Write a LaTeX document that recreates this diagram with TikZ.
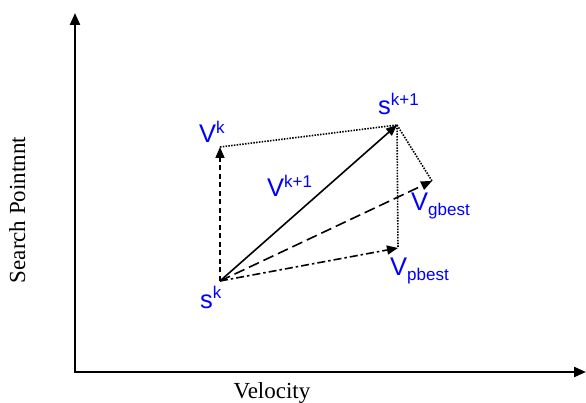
\documentclass[tikz,border=0pt]{standalone}
\usepackage{fontspec}
\setmainfont{Liberation Serif}
\newfontfamily\lblfont{Liberation Sans}
\usetikzlibrary{arrows.meta}
\definecolor{lblblue}{RGB}{0,0,255}
\newcommand\mysup[1]{\raisebox{9.5pt}{\fontsize{17}{17}\selectfont #1}}
\newcommand\mysub[1]{\raisebox{-4.5pt}{\fontsize{17}{17}\selectfont #1}}
\tikzset{
  axis/.style={line width=2.2pt, -{Triangle[length=12pt,width=10pt]}},
  vec/.style={line width=1.6pt, -{Triangle[length=11pt,width=9pt]}},
  vdash/.style={vec, dash pattern=on 5pt off 3.5pt},
  vlong/.style={vec, dash pattern=on 11pt off 5pt},
  vdashdot/.style={vec, dash pattern=on 8pt off 3pt on 2.5pt off 3pt},
  vdot/.style={line width=1.6pt, dash pattern=on 1.5pt off 1.3pt},
  lbl/.style={text=lblblue, font=\lblfont\fontsize{25.5}{25.5}\selectfont, inner sep=0pt, anchor=base west},
  axlbl/.style={font=\fontsize{23}{23}\selectfont, inner sep=0pt, anchor=base}
}
\begin{document}
\begin{tikzpicture}[x=1pt,y=-1pt]
\useasboundingbox (0,0) rectangle (586,403);
% axes
\coordinate (o) at (75,372);
\coordinate (ytop) at (75,13);
\coordinate (xend) at (586,372);
\draw[axis] ([yshift=-1.1pt]o) -- (ytop);
\draw[axis] ([xshift=-1.1pt]o) -- (xend);
\node[axlbl] (xl) at (272,398) {Velocity};
\node[axlbl, rotate=90] (yl) at (25,210) {Search Pointnnt};
% points
\coordinate (sk) at (220,281);
\coordinate (vk) at (220,147);
\coordinate (sk1) at (397,125);
\coordinate (vg) at (432,181);
\coordinate (vp) at (398,248);
% vectors
\draw[vdot] (vk) -- (sk1);
\draw[vdot] (sk1) -- (vg);
\draw[vdot] (sk1) -- (vp);
\draw[vdash] (sk) -- (vk);
\draw[vlong] (sk) -- (vg);
\draw[vdashdot] (sk) -- (vp);
\draw[vec] (sk) -- (sk1);
% labels
\node[lbl] (lvk) at (199,143) {V\mysup{k}};
\node[lbl] (lsk1) at (378,115) {s\mysup{k+1}};
\node[lbl] (lvk1) at (267,197) {V\mysup{k+1}};
\node[lbl] (lvg) at (411,211) {V\mysub{gbest}};
\node[lbl] (lvp) at (390,276) {V\mysub{pbest}};
\node[lbl] (lsk) at (200,308) {s\mysup{k}};
\end{tikzpicture}
\end{document}
